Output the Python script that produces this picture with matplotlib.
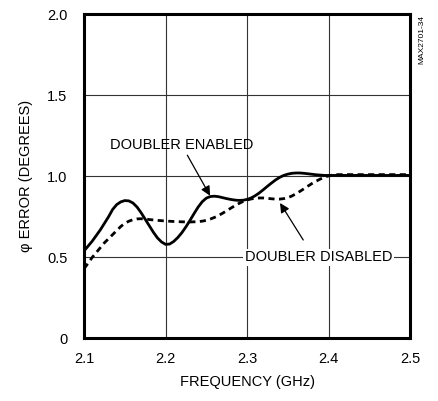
import matplotlib
matplotlib.use("Agg")
import matplotlib.pyplot as plt

plt.rcParams['font.family'] = ['Liberation Sans', 'DejaVu Sans']

# Frequency (GHz) and phase error (degrees)
freq_enabled = [2.100, 2.105, 2.110, 2.115, 2.120, 2.125, 2.130, 2.135, 2.140, 2.145,
                2.150, 2.155, 2.160, 2.165, 2.170, 2.175, 2.180, 2.185, 2.190, 2.195,
                2.200, 2.205, 2.210, 2.215, 2.220, 2.225, 2.230, 2.235, 2.240, 2.245,
                2.250, 2.255, 2.260, 2.265, 2.270, 2.275, 2.280, 2.285, 2.290, 2.295,
                2.300, 2.305, 2.310, 2.315, 2.320, 2.325, 2.330, 2.335, 2.340, 2.345,
                2.350, 2.355, 2.360, 2.365, 2.370, 2.375, 2.380, 2.385, 2.390, 2.395,
                2.400, 2.500]
err_enabled = [0.54, 0.57, 0.60, 0.635, 0.67, 0.71, 0.75, 0.795, 0.825, 0.842,
               0.85, 0.848, 0.835, 0.81, 0.775, 0.735, 0.695, 0.655, 0.62, 0.595,
               0.58, 0.582, 0.598, 0.622, 0.652, 0.688, 0.728, 0.77, 0.81, 0.843,
               0.865, 0.875, 0.877, 0.874, 0.868, 0.862, 0.857, 0.853, 0.851, 0.852,
               0.857, 0.866, 0.88, 0.897, 0.917, 0.938, 0.958, 0.977, 0.993, 1.005,
               1.013, 1.018, 1.02, 1.02, 1.018, 1.015, 1.012, 1.009, 1.007, 1.005,
               1.005, 1.005]

freq_disabled = [2.100, 2.105, 2.110, 2.115, 2.120, 2.125, 2.130, 2.135, 2.140, 2.145,
                 2.150, 2.155, 2.160, 2.165, 2.170, 2.175, 2.180, 2.190, 2.200, 2.210,
                 2.220, 2.230, 2.240, 2.245, 2.250, 2.255, 2.260, 2.265, 2.270, 2.275,
                 2.280, 2.285, 2.290, 2.295, 2.300, 2.305, 2.310, 2.315, 2.320, 2.325,
                 2.330, 2.335, 2.340, 2.345, 2.350, 2.355, 2.360, 2.365, 2.370, 2.375,
                 2.380, 2.385, 2.390, 2.395, 2.400, 2.405, 2.410, 2.500]
err_disabled = [0.43, 0.465, 0.50, 0.53, 0.56, 0.59, 0.615, 0.64, 0.665, 0.69,
                0.71, 0.723, 0.732, 0.737, 0.738, 0.736, 0.733, 0.728, 0.724, 0.721,
                0.719, 0.718, 0.72, 0.723, 0.728, 0.736, 0.746, 0.758, 0.772, 0.787,
                0.803, 0.818, 0.832, 0.844, 0.853, 0.86, 0.864, 0.866, 0.866, 0.864,
                0.861, 0.859, 0.859, 0.862, 0.868, 0.878, 0.892, 0.907, 0.923, 0.94,
                0.956, 0.97, 0.983, 0.994, 1.002, 1.008, 1.01, 1.01]

x_ticks = [2.1, 2.2, 2.3, 2.4, 2.5]
y_ticks = [0, 0.5, 1.0, 1.5, 2.0]
y_tick_labels = ["0", "0.5", "1.0", "1.5", "2.0"]

fig = plt.figure(figsize=(4.38, 4.01), dpi=100)
ax = fig.add_axes([0.192, 0.156, 0.744, 0.809])

ax.plot(freq_enabled, err_enabled, color="black", lw=2.0, zorder=3)
ax.plot(freq_disabled, err_disabled, color="black", lw=2.0,
        linestyle=(0, (2.2, 1.6)), zorder=3)

ax.set_xlim(2.1, 2.5)
ax.set_ylim(0, 2.0)
ax.set_xticks(x_ticks)
ax.set_yticks(y_ticks)
ax.set_yticklabels(y_tick_labels)
ax.tick_params(length=0, labelsize=10.5)
ax.tick_params(axis="y", pad=12)
ax.tick_params(axis="x", pad=10)
ax.grid(True, color="#333333", lw=0.8)
ax.set_axisbelow(True)
for s in ax.spines.values():
    s.set_linewidth(2.2)

ax.set_xlabel("FREQUENCY (GHz)", fontsize=10.5, labelpad=6)
ax.set_ylabel("\u03c6 ERROR (DEGREES)", fontsize=10.5, labelpad=10)

arrow = dict(arrowstyle="-|>", color="black", lw=0.9, mutation_scale=14,
             shrinkA=0, shrinkB=0)
ax.annotate("DOUBLER ENABLED", xy=(2.2546, 0.88), xytext=(2.22, 1.19),
            ha="center", va="center", fontsize=10.5, arrowprops=arrow)
ax.annotate("", xy=(2.3405, 0.835), xytext=(2.369, 0.607), arrowprops=arrow)
ax.text(2.3875, 0.5, "DOUBLER DISABLED", ha="center", va="center",
        fontsize=10.5, zorder=4,
        bbox=dict(facecolor="white", edgecolor="none", pad=1))

fig.text(0.963, 0.963, "MAX2701-34", rotation=90, ha="center", va="top",
         fontsize=6)

fig.savefig("out.png", dpi=100)
